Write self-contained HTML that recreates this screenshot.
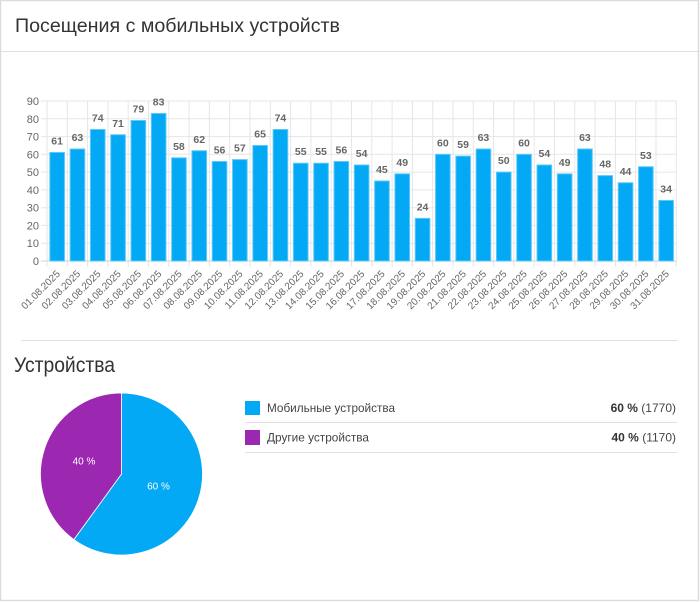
<!DOCTYPE html>
<html><head><meta charset="utf-8"><style>
html,body{margin:0;padding:0;background:#fff;}
svg{display:block;font-family:"Liberation Sans","DejaVu Sans",sans-serif;}
</style></head><body>
<svg width="700" height="602" viewBox="0 0 700 602" xmlns="http://www.w3.org/2000/svg">
<rect x="0.5" y="0.5" width="698" height="600" fill="#fff" stroke="#dcdcdc" stroke-width="1.5"/>
<line x1="0" y1="51.5" x2="699" y2="51.5" stroke="#e0e0e0" stroke-width="1"/>
<text x="15" y="32" font-size="19.5" fill="#333" textLength="325" lengthAdjust="spacingAndGlyphs">Посещения с мобильных устройств</text>

<!-- grid -->
<g stroke="#e6e6e6" stroke-width="1">
<line x1="41" y1="101" x2="676.3" y2="101"/>
<line x1="41" y1="118.8" x2="676.3" y2="118.8"/>
<line x1="41" y1="136.6" x2="676.3" y2="136.6"/>
<line x1="41" y1="154.3" x2="676.3" y2="154.3"/>
<line x1="41" y1="172.1" x2="676.3" y2="172.1"/>
<line x1="41" y1="189.9" x2="676.3" y2="189.9"/>
<line x1="41" y1="207.7" x2="676.3" y2="207.7"/>
<line x1="41" y1="225.4" x2="676.3" y2="225.4"/>
<line x1="41" y1="243.2" x2="676.3" y2="243.2"/>
<line x1="47" y1="101" x2="47" y2="267"/><line x1="67.3" y1="101" x2="67.3" y2="267"/><line x1="87.6" y1="101" x2="87.6" y2="267"/><line x1="107.9" y1="101" x2="107.9" y2="267"/><line x1="128.2" y1="101" x2="128.2" y2="267"/><line x1="148.5" y1="101" x2="148.5" y2="267"/><line x1="168.8" y1="101" x2="168.8" y2="267"/><line x1="189.1" y1="101" x2="189.1" y2="267"/><line x1="209.4" y1="101" x2="209.4" y2="267"/><line x1="229.7" y1="101" x2="229.7" y2="267"/><line x1="250" y1="101" x2="250" y2="267"/><line x1="270.3" y1="101" x2="270.3" y2="267"/><line x1="290.6" y1="101" x2="290.6" y2="267"/><line x1="310.9" y1="101" x2="310.9" y2="267"/><line x1="331.2" y1="101" x2="331.2" y2="267"/><line x1="351.5" y1="101" x2="351.5" y2="267"/><line x1="371.8" y1="101" x2="371.8" y2="267"/><line x1="392.1" y1="101" x2="392.1" y2="267"/><line x1="412.4" y1="101" x2="412.4" y2="267"/><line x1="432.7" y1="101" x2="432.7" y2="267"/><line x1="453" y1="101" x2="453" y2="267"/><line x1="473.3" y1="101" x2="473.3" y2="267"/><line x1="493.6" y1="101" x2="493.6" y2="267"/><line x1="513.9" y1="101" x2="513.9" y2="267"/><line x1="534.2" y1="101" x2="534.2" y2="267"/><line x1="554.5" y1="101" x2="554.5" y2="267"/><line x1="574.8" y1="101" x2="574.8" y2="267"/><line x1="595.1" y1="101" x2="595.1" y2="267"/><line x1="615.4" y1="101" x2="615.4" y2="267"/><line x1="635.7" y1="101" x2="635.7" y2="267"/><line x1="656" y1="101" x2="656" y2="267"/><line x1="676.3" y1="101" x2="676.3" y2="267"/>
</g>
<line x1="41" y1="261" x2="676.3" y2="261" stroke="#cfcfcf" stroke-width="1"/>

<!-- y labels -->
<g font-size="11" fill="#666" text-anchor="end">
<text x="39" y="105">90</text><text x="39" y="122.8">80</text><text x="39" y="140.6">70</text><text x="39" y="158.3">60</text><text x="39" y="176.1">50</text><text x="39" y="193.9">40</text><text x="39" y="211.7">30</text><text x="39" y="229.4">20</text><text x="39" y="247.2">10</text><text x="39" y="265">0</text>
</g>

<!-- bars -->
<g transform="translate(0,261) scale(1,-1.77778)" fill="#03a9f4" stroke="#5cc8f8" stroke-width="1">
<rect x="49.85" y="0" width="14.6" height="61" vector-effect="non-scaling-stroke"/>
<rect x="70.15" y="0" width="14.6" height="63" vector-effect="non-scaling-stroke"/>
<rect x="90.45" y="0" width="14.6" height="74" vector-effect="non-scaling-stroke"/>
<rect x="110.75" y="0" width="14.6" height="71" vector-effect="non-scaling-stroke"/>
<rect x="131.05" y="0" width="14.6" height="79" vector-effect="non-scaling-stroke"/>
<rect x="151.35" y="0" width="14.6" height="83" vector-effect="non-scaling-stroke"/>
<rect x="171.65" y="0" width="14.6" height="58" vector-effect="non-scaling-stroke"/>
<rect x="191.95" y="0" width="14.6" height="62" vector-effect="non-scaling-stroke"/>
<rect x="212.25" y="0" width="14.6" height="56" vector-effect="non-scaling-stroke"/>
<rect x="232.55" y="0" width="14.6" height="57" vector-effect="non-scaling-stroke"/>
<rect x="252.85" y="0" width="14.6" height="65" vector-effect="non-scaling-stroke"/>
<rect x="273.15" y="0" width="14.6" height="74" vector-effect="non-scaling-stroke"/>
<rect x="293.45" y="0" width="14.6" height="55" vector-effect="non-scaling-stroke"/>
<rect x="313.75" y="0" width="14.6" height="55" vector-effect="non-scaling-stroke"/>
<rect x="334.05" y="0" width="14.6" height="56" vector-effect="non-scaling-stroke"/>
<rect x="354.35" y="0" width="14.6" height="54" vector-effect="non-scaling-stroke"/>
<rect x="374.65" y="0" width="14.6" height="45" vector-effect="non-scaling-stroke"/>
<rect x="394.95" y="0" width="14.6" height="49" vector-effect="non-scaling-stroke"/>
<rect x="415.25" y="0" width="14.6" height="24" vector-effect="non-scaling-stroke"/>
<rect x="435.55" y="0" width="14.6" height="60" vector-effect="non-scaling-stroke"/>
<rect x="455.85" y="0" width="14.6" height="59" vector-effect="non-scaling-stroke"/>
<rect x="476.15" y="0" width="14.6" height="63" vector-effect="non-scaling-stroke"/>
<rect x="496.45" y="0" width="14.6" height="50" vector-effect="non-scaling-stroke"/>
<rect x="516.75" y="0" width="14.6" height="60" vector-effect="non-scaling-stroke"/>
<rect x="537.05" y="0" width="14.6" height="54" vector-effect="non-scaling-stroke"/>
<rect x="557.35" y="0" width="14.6" height="49" vector-effect="non-scaling-stroke"/>
<rect x="577.65" y="0" width="14.6" height="63" vector-effect="non-scaling-stroke"/>
<rect x="597.95" y="0" width="14.6" height="48" vector-effect="non-scaling-stroke"/>
<rect x="618.25" y="0" width="14.6" height="44" vector-effect="non-scaling-stroke"/>
<rect x="638.55" y="0" width="14.6" height="53" vector-effect="non-scaling-stroke"/>
<rect x="658.85" y="0" width="14.6" height="34" vector-effect="non-scaling-stroke"/>
</g>

<!-- data labels -->
<g font-size="10.5" font-weight="bold" fill="#666" text-anchor="middle">
<text x="57.15" y="144.5">61</text><text x="77.45" y="141">63</text><text x="97.75" y="121.4">74</text><text x="118.05" y="126.8">71</text><text x="138.35" y="112.6">79</text><text x="158.65" y="105.4">83</text><text x="178.95" y="149.9">58</text><text x="199.25" y="142.8">62</text><text x="219.55" y="153.4">56</text><text x="239.85" y="151.7">57</text><text x="260.15" y="137.4">65</text><text x="280.45" y="121.4">74</text><text x="300.75" y="155.2">55</text><text x="321.05" y="155.2">55</text><text x="341.35" y="153.4">56</text><text x="361.65" y="157">54</text><text x="381.95" y="173">45</text><text x="402.25" y="165.9">49</text><text x="422.55" y="210.3">24</text><text x="442.85" y="146.3">60</text><text x="463.15" y="148.1">59</text><text x="483.45" y="141">63</text><text x="503.75" y="164.1">50</text><text x="524.05" y="146.3">60</text><text x="544.35" y="157">54</text><text x="564.65" y="165.9">49</text><text x="584.95" y="141">63</text><text x="605.25" y="167.7">48</text><text x="625.55" y="174.8">44</text><text x="645.85" y="158.8">53</text><text x="666.15" y="192.6">34</text>
</g>

<!-- x labels -->
<g font-size="10" fill="#666" text-anchor="end">
<text transform="translate(58.2,272) rotate(-45)" dy="0.35em">01.08.2025</text>
<text transform="translate(78.5,272) rotate(-45)" dy="0.35em">02.08.2025</text>
<text transform="translate(98.8,272) rotate(-45)" dy="0.35em">03.08.2025</text>
<text transform="translate(119.1,272) rotate(-45)" dy="0.35em">04.08.2025</text>
<text transform="translate(139.4,272) rotate(-45)" dy="0.35em">05.08.2025</text>
<text transform="translate(159.7,272) rotate(-45)" dy="0.35em">06.08.2025</text>
<text transform="translate(180,272) rotate(-45)" dy="0.35em">07.08.2025</text>
<text transform="translate(200.3,272) rotate(-45)" dy="0.35em">08.08.2025</text>
<text transform="translate(220.6,272) rotate(-45)" dy="0.35em">09.08.2025</text>
<text transform="translate(240.9,272) rotate(-45)" dy="0.35em">10.08.2025</text>
<text transform="translate(261.2,272) rotate(-45)" dy="0.35em">11.08.2025</text>
<text transform="translate(281.5,272) rotate(-45)" dy="0.35em">12.08.2025</text>
<text transform="translate(301.8,272) rotate(-45)" dy="0.35em">13.08.2025</text>
<text transform="translate(322.1,272) rotate(-45)" dy="0.35em">14.08.2025</text>
<text transform="translate(342.4,272) rotate(-45)" dy="0.35em">15.08.2025</text>
<text transform="translate(362.7,272) rotate(-45)" dy="0.35em">16.08.2025</text>
<text transform="translate(383,272) rotate(-45)" dy="0.35em">17.08.2025</text>
<text transform="translate(403.3,272) rotate(-45)" dy="0.35em">18.08.2025</text>
<text transform="translate(423.6,272) rotate(-45)" dy="0.35em">19.08.2025</text>
<text transform="translate(443.9,272) rotate(-45)" dy="0.35em">20.08.2025</text>
<text transform="translate(464.2,272) rotate(-45)" dy="0.35em">21.08.2025</text>
<text transform="translate(484.5,272) rotate(-45)" dy="0.35em">22.08.2025</text>
<text transform="translate(504.8,272) rotate(-45)" dy="0.35em">23.08.2025</text>
<text transform="translate(525.1,272) rotate(-45)" dy="0.35em">24.08.2025</text>
<text transform="translate(545.4,272) rotate(-45)" dy="0.35em">25.08.2025</text>
<text transform="translate(565.7,272) rotate(-45)" dy="0.35em">26.08.2025</text>
<text transform="translate(586,272) rotate(-45)" dy="0.35em">27.08.2025</text>
<text transform="translate(606.3,272) rotate(-45)" dy="0.35em">28.08.2025</text>
<text transform="translate(626.6,272) rotate(-45)" dy="0.35em">29.08.2025</text>
<text transform="translate(646.9,272) rotate(-45)" dy="0.35em">30.08.2025</text>
<text transform="translate(667.2,272) rotate(-45)" dy="0.35em">31.08.2025</text>
</g>

<!-- section 2 -->
<line x1="21" y1="340.5" x2="678" y2="340.5" stroke="#e0e0e0" stroke-width="1"/>
<text x="14" y="372" font-size="21" fill="#333" textLength="101" lengthAdjust="spacingAndGlyphs">Устройства</text>

<path d="M121.5,474 L121.5,393 A81,81 0 1,1 73.89,539.53 Z" fill="#03a9f4" stroke="#fff" stroke-width="0.8"/>
<path d="M121.5,474 L73.89,539.53 A81,81 0 0,1 121.5,393 Z" fill="#9c27b0" stroke="#fff" stroke-width="0.8"/>
<text x="84" y="464.5" font-size="10" fill="#fff" text-anchor="middle">40 %</text>
<text x="158.5" y="489.5" font-size="10" fill="#fff" text-anchor="middle">60 %</text>

<rect x="245" y="401" width="15" height="14" fill="#03a9f4"/>
<text x="267" y="412" font-size="12" fill="#444" textLength="128" lengthAdjust="spacingAndGlyphs">Мобильные устройства</text>
<text x="676" y="412" font-size="12" fill="#444" text-anchor="end"><tspan font-weight="bold" fill="#333">60 %</tspan> (1770)</text>
<line x1="245" y1="422.5" x2="677" y2="422.5" stroke="#e0e0e0" stroke-width="1"/>

<rect x="245" y="430" width="15" height="15" fill="#9c27b0"/>
<text x="267" y="441.5" font-size="12" fill="#444" textLength="102" lengthAdjust="spacingAndGlyphs">Другие устройства</text>
<text x="676" y="441.5" font-size="12" fill="#444" text-anchor="end"><tspan font-weight="bold" fill="#333">40 %</tspan> (1170)</text>
<line x1="245" y1="452.5" x2="677" y2="452.5" stroke="#e0e0e0" stroke-width="1"/>
</svg>
</body></html>
